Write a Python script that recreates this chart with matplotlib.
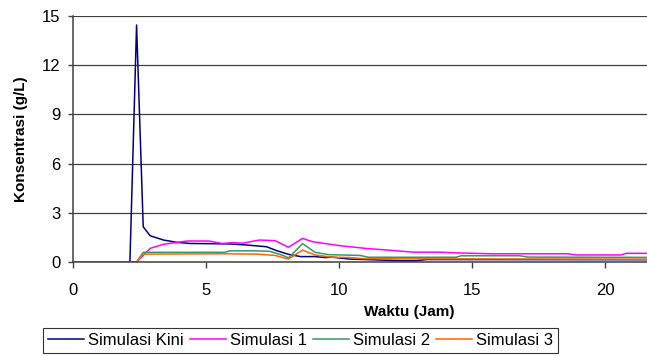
import matplotlib
matplotlib.use("Agg")
import matplotlib.pyplot as plt

plt.rcParams['font.family'] = ['Liberation Sans', 'DejaVu Sans']

# ---------------------------------------------------------
# Data (time in hours, g/L)
# ---------------------------------------------------------
t_kini = [0, 2.14, 2.39, 2.64, 2.9, 3.4, 3.9, 4.4, 5.0, 5.9, 6.5, 7.28,
          7.66, 8.1, 8.55, 9.1, 9.5, 9.7, 10.4, 11.0, 12.3, 12.9, 13.3, 21.7]
c_kini = [0, 0, 14.45, 2.15, 1.6, 1.34, 1.2, 1.13, 1.12, 1.1, 1.04, 0.93,
          0.69, 0.47, 0.33, 0.33, 0.27, 0.3, 0.18, 0.15, 0.08, 0.08, 0.15, 0.14]

t_sim1 = [0, 2.39, 2.9, 3.4, 4.3, 5.1, 5.6, 6.0, 6.4, 7.0, 7.6, 8.1, 8.63,
          9.0, 10.0, 11.0, 11.8, 12.8, 13.8, 14.5, 15.8, 18.6, 18.9, 20.6,
          20.8, 21.7]
c_sim1 = [0, 0, 0.83, 1.08, 1.28, 1.28, 1.13, 1.18, 1.15, 1.34, 1.3, 0.9,
          1.44, 1.24, 1.0, 0.83, 0.73, 0.6, 0.6, 0.55, 0.5, 0.5, 0.43, 0.43,
          0.53, 0.53]

t_sim2 = [0, 2.39, 2.64, 5.7, 5.9, 6.9, 7.4, 7.9, 8.1, 8.63, 9.1, 9.6,
          10.8, 11.1, 14.4, 14.6, 16.8, 17.1, 21.7]
c_sim2 = [0, 0, 0.59, 0.59, 0.68, 0.68, 0.65, 0.4, 0.25, 1.12, 0.59, 0.45,
          0.4, 0.29, 0.29, 0.38, 0.38, 0.3, 0.28]

t_sim3 = [0, 2.39, 2.64, 5.7, 6.9, 7.6, 8.1, 8.63, 9.1, 9.7, 10.4, 11.0,
          21.7]
c_sim3 = [0, 0, 0.48, 0.5, 0.48, 0.4, 0.18, 0.73, 0.43, 0.3, 0.27, 0.2,
          0.17]

labels = ["Simulasi Kini", "Simulasi 1", "Simulasi 2", "Simulasi 3"]
colors = ["#000080", "#FF00FF", "#339966", "#FF6600"]

x_ticks = [0, 5, 10, 15, 20]
y_ticks = [0, 3, 6, 9, 12, 15]


def main():
    fig = plt.figure(figsize=(6.47, 3.56), dpi=100)
    ax = fig.add_axes([73 / 647, 94 / 356, 1 - 73 / 647, 246 / 356])

    series = [(t_kini, c_kini), (t_sim1, c_sim1), (t_sim2, c_sim2), (t_sim3, c_sim3)]
    for (t, c), lab, col in zip(series, labels, colors):
        ax.plot(t, c, color=col, lw=1.1, label=lab)

    ax.set_xlim(0, 21.58)
    ax.set_ylim(0, 15)
    ax.set_xticks(x_ticks)
    ax.set_yticks(y_ticks)

    # horizontal gridlines only
    ax.yaxis.grid(True, color="#404040", lw=0.9)
    ax.set_axisbelow(True)

    for side in ["top", "right"]:
        ax.spines[side].set_visible(False)
    for side in ["left", "bottom"]:
        ax.spines[side].set_color("#404040")
        ax.spines[side].set_linewidth(1.1)

    ax.tick_params(axis="x", direction="out", length=4.3, width=1, color="#404040",
                   pad=11, labelsize=12)
    ax.tick_params(axis="y", direction="out", length=3.6, width=1, color="#404040",
                   pad=5.5, labelsize=12)

    fig.text(21 / 647, 1 - 139 / 356, "Konsentrasi (g/L)", rotation=90,
             ha="center", va="center", fontsize=11, fontweight="bold")
    fig.text(409 / 647, 1 - 312 / 356, "Waktu (Jam)",
             ha="center", va="center", fontsize=11, fontweight="bold")

    handles, labs = ax.get_legend_handles_labels()
    leg = fig.legend(handles, labs, ncol=4, loc="center",
                     bbox_to_anchor=(300.5 / 647, 1 - 340.5 / 356),
                     fontsize=12, frameon=True, fancybox=False,
                     handlelength=2.17, handletextpad=0.24, columnspacing=0.36,
                     borderpad=0.3, borderaxespad=0)
    leg.get_frame().set_edgecolor("black")
    leg.get_frame().set_linewidth(0.8)

    fig.savefig("out.png", dpi=100)


if __name__ == "__main__":
    main()
